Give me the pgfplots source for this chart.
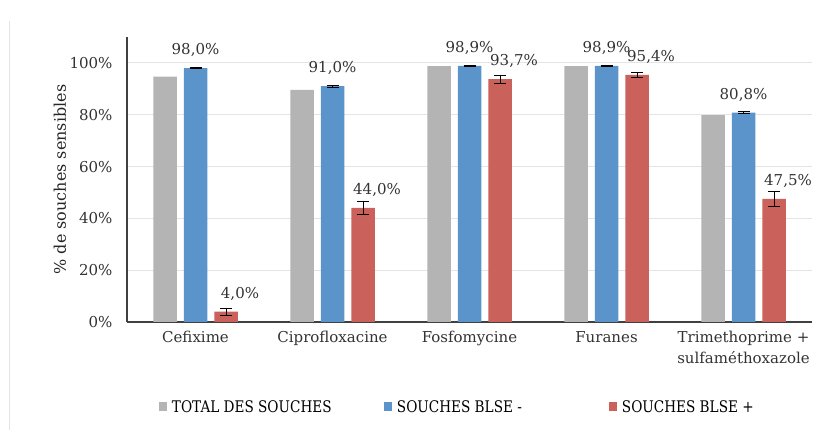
\documentclass[border=0pt]{standalone}
\usepackage{pgfplots}
\usepackage{pgfplotstable}
\pgfplotsset{compat=1.18}
\usepackage{fontspec}
\setmainfont{DejaVu Serif}
\newfontfamily\legfont[FakeStretch=0.85]{DejaVu Serif}
\definecolor{cgray}{HTML}{B4B4B4}
\definecolor{cblue}{HTML}{5B93CB}
\definecolor{cred}{HTML}{CB615B}
\definecolor{cgrid}{HTML}{E4E4E4}
\definecolor{caxis}{HTML}{404040}

\pgfplotstableread{
x  g     b     be    r     re
0  94.7  98.0  0.3   4.0   1.3
1  89.6  91.0  0.3   44.0  2.6
2  98.8  98.9  0.2   93.7  1.5
3  98.8  98.9  0.2   95.4  1.0
4  79.8  80.8  0.4   47.5  2.8
}\data

\begin{document}
\begin{tikzpicture}
\useasboundingbox (0,0) rectangle (822pt,430pt);
\draw[gray!22, line width=1pt] (9.5pt,0) -- (9.5pt,409pt);
\begin{axis}[
  at={(127pt,108pt)}, anchor=south west,
  scale only axis, width=685pt, height=285pt,
  xmin=-0.5, xmax=4.5, ymin=0, ymax=110,
  ybar=7pt, bar width=23.5pt,
  /pgf/number format/assume math mode=true,
  axis x line*=bottom, axis y line*=left,
  axis line style={caxis, line width=1.2pt},
  xtick={0,...,4},
  xticklabels={Cefixime, Ciprofloxacine, Fosfomycine, Furanes, {Trimethoprime +\\sulfaméthoxazole}},
  xticklabel style={align=center, anchor=north, yshift=-6pt, font=\fontsize{15}{21}\selectfont, text=black!80},
  ytick={0,20,...,100},
  yticklabel={\pgfmathprintnumber{\tick}\%},
  yticklabel style={xshift=-11pt, font=\fontsize{15}{18}\selectfont, text=black!80},
  major tick length=0pt,
  ymajorgrids, grid style={cgrid, line width=1pt},
  ylabel={\% de souches sensibles},
  ylabel style={at={(axis description cs:-0.098,0.5)}, anchor=center, font=\fontsize{16}{19}\selectfont, text=black!85},
  legend columns=3,
  legend style={at={(0.042,-0.298)}, anchor=west, draw=none, fill=none, font=\legfont\fontsize{16}{19}\selectfont,
    /tikz/every odd column/.append style={column sep=3pt}},
  legend image code/.code={\fill[#1] (0pt,-4.5pt) rectangle (8pt,4.5pt);},
  legend cell align=left,
]
\addplot[fill=cgray, draw=none] table[x=x, y=g] {\data};
\addplot[fill=cblue, draw=none, point meta=y,
  nodes near coords={\pgfmathprintnumber[fixed,fixed zerofill,precision=1,use comma]{\pgfplotspointmeta}\%},
  nodes near coords style={font=\fontsize{15}{18}\selectfont, text=black!80, anchor=south, yshift=8pt},
  error bars/.cd, y dir=both, y explicit,
  error bar style={black, line width=0.8pt},
  error mark options={rotate=90, mark size=6pt, line width=0.8pt, black}]
  table[x=x, y=b, y error=be] {\data};
\addplot[fill=cred, draw=none, point meta=y,
  nodes near coords={\pgfmathprintnumber[fixed,fixed zerofill,precision=1,use comma]{\pgfplotspointmeta}\%},
  nodes near coords style={font=\fontsize{15}{18}\selectfont, text=black!80, anchor=south, yshift=8pt, xshift=14pt},
  error bars/.cd, y dir=both, y explicit,
  error bar style={black, line width=0.8pt},
  error mark options={rotate=90, mark size=6pt, line width=0.8pt, black}]
  table[x=x, y=r, y error=re] {\data};
\legend{\makebox[210pt][l]{TOTAL DES SOUCHES}, \makebox[210pt][l]{SOUCHES BLSE -}, SOUCHES BLSE +}
\end{axis}
\end{tikzpicture}
\end{document}
